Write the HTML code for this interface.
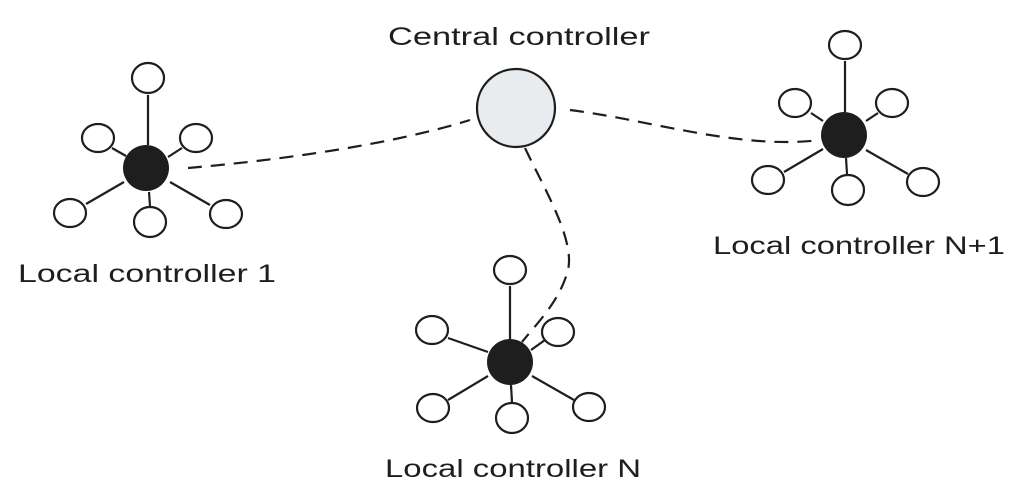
<!DOCTYPE html>
<html><head><style>
body{margin:0;background:#fff}
svg{display:block}
text{font-family:"Liberation Sans",sans-serif;font-size:25px;fill:#1e1e1e}
</style></head><body>
<svg width="1024" height="504" viewBox="0 0 1024 504">
<g stroke="#1e1e1e" stroke-width="2.2" fill="none">
<!-- dashed connectors -->
<path d="M188 168 C280 160,390 145,470 120" stroke-dasharray="14 9"/>
<path d="M570 110 C650 120,740 150,820 140" stroke-dasharray="14 9"/>
<path d="M525 148 C545 190,575 240,568 270 C560 300,540 320,522 342" stroke-dasharray="14 9"/>
<!-- left cluster -->
<line x1="148" y1="95" x2="148" y2="145"/><line x1="112" y1="148" x2="126" y2="156"/><line x1="182" y1="148" x2="168" y2="157"/>
<line x1="86" y1="204" x2="124" y2="182"/><line x1="149" y1="192" x2="150" y2="206"/><line x1="170" y1="182" x2="210" y2="205"/>
<ellipse cx="148" cy="78" rx="16" ry="15"/><ellipse cx="98" cy="138" rx="16" ry="14"/><ellipse cx="196" cy="138" rx="16" ry="14"/>
<ellipse cx="70" cy="213" rx="16" ry="14"/><ellipse cx="150" cy="222" rx="16" ry="15"/><ellipse cx="226" cy="214" rx="16" ry="14"/>
<!-- right cluster -->
<line x1="845" y1="61" x2="845" y2="112"/><line x1="811" y1="113" x2="823" y2="121"/><line x1="878" y1="113" x2="866" y2="121"/>
<line x1="784" y1="172" x2="823" y2="149"/><line x1="846" y1="158" x2="847" y2="174"/><line x1="866" y1="150" x2="908" y2="174"/>
<ellipse cx="845" cy="45" rx="16" ry="14"/><ellipse cx="795" cy="103" rx="16" ry="14"/><ellipse cx="892" cy="103" rx="16" ry="14"/>
<ellipse cx="768" cy="180" rx="16" ry="14"/><ellipse cx="848" cy="190" rx="16" ry="15"/><ellipse cx="923" cy="182" rx="16" ry="14"/>
<!-- bottom cluster -->
<line x1="510" y1="286" x2="510" y2="339"/><line x1="448" y1="338" x2="488" y2="352"/><line x1="545" y1="340" x2="531" y2="350"/>
<line x1="448" y1="400" x2="488" y2="376"/><line x1="511" y1="385" x2="512" y2="402"/><line x1="532" y1="376" x2="574" y2="400"/>
<ellipse cx="510" cy="270" rx="16" ry="14"/><ellipse cx="432" cy="330" rx="16" ry="14"/><ellipse cx="558" cy="332" rx="16" ry="14"/>
<ellipse cx="433" cy="408" rx="16" ry="14"/><ellipse cx="512" cy="418" rx="16" ry="15"/><ellipse cx="589" cy="407" rx="16" ry="14"/>
</g>
<circle cx="516" cy="108" r="39" fill="#e9ecef" stroke="#1e1e1e" stroke-width="2.2"/>
<circle cx="146" cy="168" r="23" fill="#1e1e1e"/>
<circle cx="844" cy="135" r="23" fill="#1e1e1e"/>
<circle cx="510" cy="362" r="23" fill="#1e1e1e"/>
<text x="18" y="282" textLength="258" lengthAdjust="spacingAndGlyphs">Local controller 1</text>
<text x="388" y="45" textLength="262" lengthAdjust="spacingAndGlyphs">Central controller</text>
<text x="713" y="254" textLength="292" lengthAdjust="spacingAndGlyphs">Local controller N+1</text>
<text x="385" y="477" textLength="256" lengthAdjust="spacingAndGlyphs">Local controller N</text>
</svg>
</body></html>
